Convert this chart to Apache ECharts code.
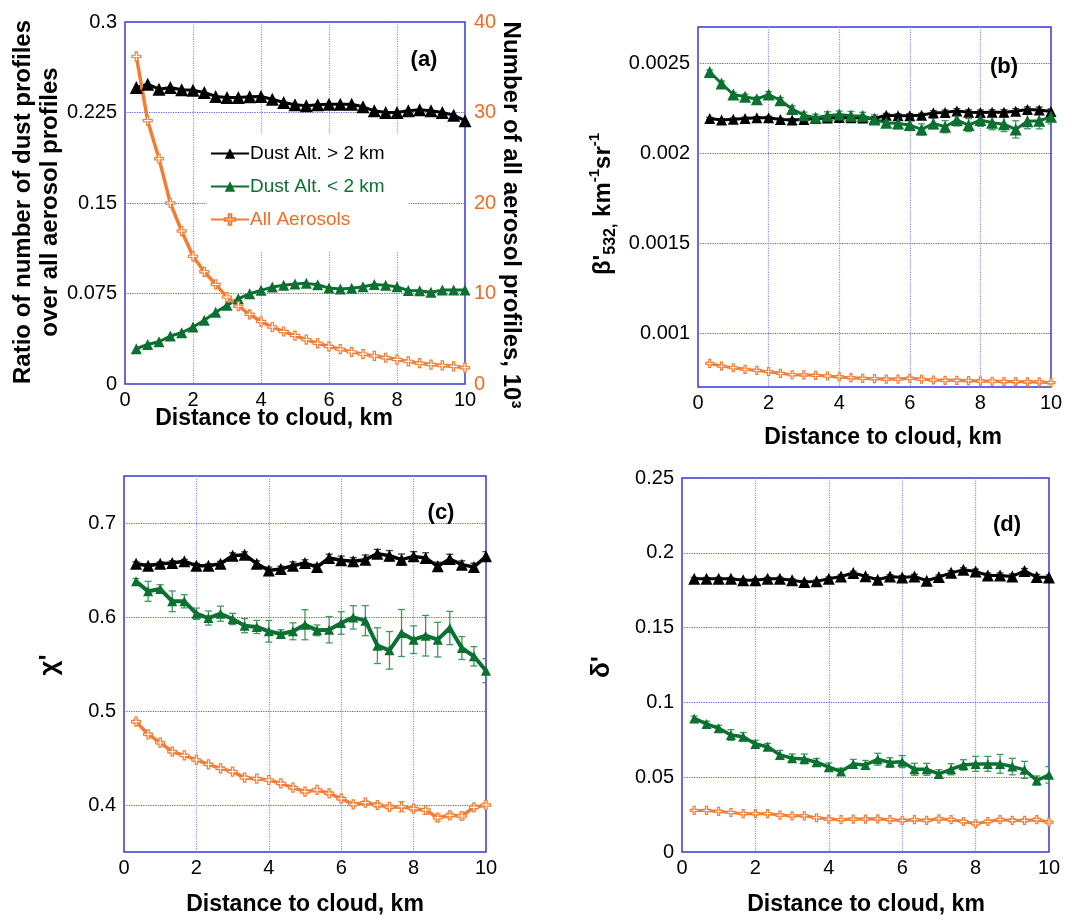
<!DOCTYPE html>
<html>
<head>
<meta charset="utf-8">
<script src="https://cdn.jsdelivr.net/npm/echarts@6/dist/echarts.min.js"></script>
<style>
  html, body { margin: 0; padding: 0; background: #ffffff; }
  #chart { width: 1077px; height: 922px; }
</style>
</head>
<body>
<div id="chart"></div>
<script>
// Distance to cloud edge (km), shared by all four panels
const distanceKm = [0.333, 0.667, 1, 1.333, 1.667, 2, 2.333, 2.667, 3, 3.333, 3.667, 4, 4.333, 4.667, 5,
  5.333, 5.667, 6, 6.333, 6.667, 7, 7.333, 7.667, 8, 8.333, 8.667, 9, 9.333, 9.667, 10];

// (a) fraction of dust profiles and number of all aerosol profiles (thousands)
const ratioHighDust = [0.2457, 0.2485, 0.2443, 0.2457, 0.2438, 0.2435, 0.2416, 0.2383, 0.2374, 0.2374, 0.2380, 0.2383, 0.2360, 0.2333, 0.2314,
  0.2305, 0.2314, 0.2319, 0.2319, 0.2319, 0.2297, 0.2264, 0.2250, 0.2250, 0.2264, 0.2272, 0.2264, 0.2250, 0.2228, 0.2182];
const ratioLowDust = [0.0292, 0.0328, 0.0350, 0.0398, 0.0425, 0.0472, 0.0528, 0.0595, 0.0652, 0.0706, 0.0748, 0.0776, 0.0803, 0.0818, 0.0828,
  0.0834, 0.0822, 0.0795, 0.0788, 0.0793, 0.0806, 0.0824, 0.0818, 0.0805, 0.0775, 0.0772, 0.0760, 0.0778, 0.0778, 0.0778];
const allAerosolCount = [36.2, 29.1, 24.9, 20.0, 16.9, 14.1, 12.4, 11.0, 9.6, 8.6, 7.7, 6.9, 6.3, 5.8, 5.35,
  4.9, 4.5, 4.15, 3.85, 3.55, 3.3, 3.1, 2.9, 2.7, 2.5, 2.3, 2.15, 2.05, 1.95, 1.8];

// (b) attenuated backscatter at 532 nm (km-1 sr-1) and standard errors
const backscatterHigh = [0.002192, 0.002183, 0.002188, 0.002192, 0.002196, 0.002196, 0.002186, 0.002183, 0.002186, 0.002192, 0.002195, 0.002197, 0.002196, 0.002194, 0.002192,
  0.002210, 0.002207, 0.002207, 0.002210, 0.002223, 0.002225, 0.002234, 0.002227, 0.002225, 0.002227, 0.002227, 0.002232, 0.002242, 0.002239, 0.002230];
const backscatterLow = [0.002450, 0.002386, 0.002325, 0.002312, 0.002299, 0.002325, 0.002293, 0.002244, 0.002210, 0.002196, 0.002207, 0.002214, 0.002207, 0.002205, 0.002186,
  0.002168, 0.002164, 0.002155, 0.002131, 0.002164, 0.002146, 0.002183, 0.002155, 0.002183, 0.002168, 0.002160, 0.002131, 0.002177, 0.002179, 0.002201];
const backscatterAll = [0.000831, 0.000816, 0.000807, 0.000798, 0.000792, 0.000785, 0.000776, 0.000768, 0.000767, 0.000765, 0.000761, 0.000756, 0.000752, 0.000748, 0.000746,
  0.000744, 0.000744, 0.000748, 0.000743, 0.000739, 0.000737, 0.000737, 0.000735, 0.000733, 0.000732, 0.000730, 0.000730, 0.000728, 0.000728, 0.000724];
const backscatterHighErr = [0.000006, 0.000007, 0.000006, 0.000007, 0.000006, 0.000008, 0.000007, 0.000008, 0.000009, 0.000008, 0.000009, 0.000010, 0.000009, 0.000010, 0.000011,
  0.000010, 0.000011, 0.000012, 0.000011, 0.000012, 0.000013, 0.000012, 0.000013, 0.000014, 0.000013, 0.000014, 0.000015, 0.000014, 0.000016, 0.000015];
const backscatterLowErr = [0.000012, 0.000014, 0.000012, 0.000015, 0.000013, 0.000016, 0.000015, 0.000018, 0.000017, 0.000020, 0.000022, 0.000019, 0.000024, 0.000021, 0.000026,
  0.000025, 0.000028, 0.000030, 0.000031, 0.000029, 0.000034, 0.000033, 0.000036, 0.000035, 0.000039, 0.000041, 0.000048, 0.000042, 0.000045, 0.000040];
const backscatterAllErr = [0.000004, 0.000004, 0.000004, 0.000004, 0.000005, 0.000004, 0.000005, 0.000005, 0.000004, 0.000005, 0.000005, 0.000005, 0.000006, 0.000005, 0.000006,
  0.000006, 0.000005, 0.000006, 0.000006, 0.000007, 0.000006, 0.000006, 0.000007, 0.000006, 0.000007, 0.000007, 0.000007, 0.000008, 0.000007, 0.000008];

// (c) attenuated color ratio and standard errors
const colorRatioHigh = [0.6567, 0.6546, 0.6567, 0.6574, 0.6592, 0.6546, 0.6546, 0.6567, 0.6652, 0.6663, 0.6567, 0.6496, 0.6511, 0.6546, 0.6574,
  0.6532, 0.6628, 0.6603, 0.6592, 0.6610, 0.6674, 0.6652, 0.6610, 0.6645, 0.6628, 0.6539, 0.6617, 0.6557, 0.6532, 0.6645];
const colorRatioLow = [0.6379, 0.6273, 0.6298, 0.6167, 0.6167, 0.6035, 0.5989, 0.6035, 0.5979, 0.5908, 0.5894, 0.5848, 0.5819, 0.5848, 0.5918,
  0.5858, 0.5865, 0.5936, 0.5996, 0.5961, 0.5695, 0.5645, 0.5830, 0.5759, 0.5801, 0.5759, 0.5883, 0.5670, 0.5582, 0.5429];
const colorRatioAll = [0.4887, 0.4752, 0.4663, 0.4567, 0.4528, 0.4479, 0.4433, 0.4390, 0.4355, 0.4291, 0.4280, 0.4266, 0.4230, 0.4184, 0.4142,
  0.4160, 0.4124, 0.4067, 0.4007, 0.4025, 0.4000, 0.3979, 0.3982, 0.3961, 0.3947, 0.3865, 0.3890, 0.3883, 0.3975, 0.4000];
const colorRatioHighErr = [0.002, 0.002, 0.002, 0.0025, 0.002, 0.0025, 0.002, 0.0025, 0.003, 0.003, 0.003, 0.0035, 0.003, 0.004, 0.0035,
  0.003, 0.004, 0.0045, 0.004, 0.005, 0.0045, 0.0055, 0.006, 0.005, 0.0055, 0.0045, 0.005, 0.004, 0.004, 0.005];
const colorRatioLowErr = [0.003, 0.0106, 0.0045, 0.011, 0.007, 0.006, 0.0075, 0.008, 0.006, 0.0075, 0.007, 0.0115, 0.0045, 0.009, 0.016,
  0.0057, 0.014, 0.012, 0.0124, 0.016, 0.019, 0.020, 0.025, 0.0147, 0.0216, 0.0184, 0.0177, 0.0122, 0.0103, 0.0128];
const colorRatioAllErr = [0.002, 0.0015, 0.0015, 0.0015, 0.0015, 0.0015, 0.0015, 0.0015, 0.0015, 0.002, 0.0015, 0.0015, 0.002, 0.002, 0.002,
  0.002, 0.002, 0.002, 0.002, 0.002, 0.0025, 0.0025, 0.0055, 0.003, 0.0045, 0.0035, 0.003, 0.0035, 0.0025, 0.003];

// (d) particulate depolarization ratio and standard errors
const depolHigh = [0.1827, 0.1827, 0.1827, 0.1827, 0.1816, 0.1816, 0.1827, 0.1827, 0.1816, 0.1804, 0.1809, 0.1827, 0.1842, 0.1865, 0.1843,
  0.1820, 0.1842, 0.1835, 0.1842, 0.1813, 0.1838, 0.1866, 0.1886, 0.1875, 0.1849, 0.1849, 0.1842, 0.1879, 0.1838, 0.1835];
const depolLow = [0.0893, 0.0856, 0.0827, 0.0782, 0.0771, 0.0722, 0.0704, 0.0649, 0.0627, 0.0622, 0.0600, 0.0567, 0.0538, 0.0589, 0.0582,
  0.0620, 0.0598, 0.0604, 0.0553, 0.0553, 0.0522, 0.0553, 0.0582, 0.0589, 0.0589, 0.0589, 0.0571, 0.0549, 0.0478, 0.0516];
const depolAll = [0.0278, 0.0278, 0.0271, 0.0264, 0.0256, 0.0256, 0.0256, 0.0247, 0.0242, 0.0242, 0.0229, 0.0220, 0.0216, 0.0220, 0.0220,
  0.0222, 0.0216, 0.0211, 0.0216, 0.0211, 0.0222, 0.0216, 0.0204, 0.0189, 0.0204, 0.0216, 0.0211, 0.0211, 0.0216, 0.0200];
const depolHighErr = [0.0008, 0.0008, 0.0009, 0.0008, 0.0009, 0.0010, 0.0009, 0.0010, 0.0010, 0.0011, 0.0010, 0.0011, 0.0012, 0.0012, 0.0011,
  0.0013, 0.0012, 0.0013, 0.0014, 0.0013, 0.0014, 0.0015, 0.0014, 0.0016, 0.0015, 0.0016, 0.0017, 0.0016, 0.0018, 0.0017];
const depolLowErr = [0.0015, 0.0018, 0.0020, 0.0036, 0.0028, 0.0025, 0.0022, 0.0030, 0.0028, 0.0033, 0.0025, 0.0028, 0.0022, 0.0030, 0.0030,
  0.0040, 0.0032, 0.0040, 0.0040, 0.0040, 0.0028, 0.0037, 0.0035, 0.0050, 0.0050, 0.0063, 0.0055, 0.0057, 0.0030, 0.0055];
const depolAllErr = [0.0006, 0.0006, 0.0006, 0.0007, 0.0006, 0.0007, 0.0007, 0.0007, 0.0008, 0.0007, 0.0008, 0.0008, 0.0008, 0.0009, 0.0008,
  0.0009, 0.0009, 0.0010, 0.0009, 0.0010, 0.0010, 0.0011, 0.0010, 0.0012, 0.0011, 0.0011, 0.0012, 0.0011, 0.0012, 0.0012];

const seriesNames = ['Dust Alt. > 2 km', 'Dust Alt. < 2 km', 'All Aerosols'];

const FONT = "'Liberation Sans', Arial, Helvetica, sans-serif";
const COL = {
  black: '#000000', green: '#0b7030', orange: '#f47d36',
  frame: '#3838d4', gridH: '#5c5ce6', gridV: '#8e8ef0',
  errBlack: '#3a3a3a', errGreen: '#3f9a5e', errOrange: '#f7a072'
};
const T = 'transparent';
// hollow plus marker used for the aerosol curves
const CROSS = 'path://M3,0H5V3H8V5H5V8H3V5H0V3H3Z';

const grids = [
  { left: 125, top: 22, width: 340, height: 362 },
  { left: 698, top: 27, width: 353, height: 360 },
  { left: 124, top: 476, width: 362, height: 376 },
  { left: 682, top: 478, width: 367, height: 374 }
].map(g => Object.assign({ show: true, borderColor: COL.frame, borderWidth: 1.5, backgroundColor: T }, g));

const labelStyle = { color: '#000', fontSize: 20, fontFamily: FONT };

const xAxes = [0, 1, 2, 3].map(gi => ({
  type: 'value', gridIndex: gi, min: 0, max: 10, interval: 2,
  axisLine: { show: false }, axisTick: { show: false },
  axisLabel: Object.assign({ margin: 6 }, labelStyle),
  splitLine: { show: true, lineStyle: { type: 'dotted', width: 1.2, color: [T, COL.gridV, COL.gridV, COL.gridV, COL.gridV, T] } }
}));

function yAxis(gi, min, max, interval, splitColors, formatter, extra) {
  return Object.assign({
    type: 'value', gridIndex: gi, min, max, interval,
    axisLine: { show: false }, axisTick: { show: false },
    axisLabel: Object.assign({ margin: 8, formatter }, labelStyle),
    splitLine: { show: true, lineStyle: { type: 'dotted', width: 1.2, color: splitColors } }
  }, extra || {});
}

const yAxes = [
  yAxis(0, 0, 0.3, 0.075, [T, COL.gridH, COL.gridH, COL.gridH, T]),
  yAxis(0, 0, 40, 10, [T], undefined, {
    position: 'right', splitLine: { show: false },
    axisLabel: Object.assign({ margin: 9 }, labelStyle, { color: '#f26b22' })
  }),
  // ticks every 1e-4 from 7e-4; only the multiples of 5e-4 get a label and a grid line
  yAxis(1, 0.0007, 0.0027, 0.0001, [T, T, T, COL.gridH, T],
    v => (Math.round(v * 1e4) % 5 === 0) ? String(Math.round(v * 1e4) / 1e4) : ''),
  // ticks every 0.05 from 0.35; labels and grid lines on the tenths
  yAxis(2, 0.35, 0.75, 0.05, [T, COL.gridH],
    v => (Math.round(v * 100) % 10 === 0) ? String(Math.round(v * 10) / 10) : ''),
  yAxis(3, 0, 0.25, 0.05, [T, COL.gridH, COL.gridH, COL.gridH, COL.gridH, T])
];

function pairs(ys) { return distanceKm.map((x, i) => [x, ys[i]]); }

function curve(kind, xi, yi, ys, opts) {
  const o = opts || {};
  const base = { type: 'line', name: seriesNames[kind], xAxisIndex: xi, yAxisIndex: yi, data: pairs(ys), z: 3, animation: false, clip: true };
  if (kind === 2) {
    return Object.assign(base, {
      symbol: CROSS, symbolSize: o.size || 8,
      lineStyle: { color: COL.orange, width: o.width || 3 },
      itemStyle: { color: '#ffffff', borderColor: COL.orange, borderWidth: 1.2 }
    });
  }
  const c = kind === 0 ? COL.black : COL.green;
  return Object.assign(base, {
    symbol: 'triangle', symbolSize: o.size || 11,
    lineStyle: { color: c, width: o.width || 3 },
    itemStyle: { color: c }
  });
}

function errorBars(xi, yi, ys, errs, color) {
  return {
    type: 'custom', xAxisIndex: xi, yAxisIndex: yi, z: 2, silent: true, animation: false, clip: true,
    data: distanceKm.map((x, i) => [x, ys[i], errs[i]]),
    encode: { x: 0, y: 1 },
    renderItem: (params, api) => {
      const x = api.value(0), y = api.value(1), e = api.value(2);
      const hi = api.coord([x, y + e]);
      const lo = api.coord([x, y - e]);
      const cap = 3.5;
      const st = { stroke: color, lineWidth: 1.3 };
      return {
        type: 'group', children: [
          { type: 'line', shape: { x1: hi[0], y1: hi[1], x2: lo[0], y2: lo[1] }, style: st },
          { type: 'line', shape: { x1: hi[0] - cap, y1: hi[1], x2: hi[0] + cap, y2: hi[1] }, style: st },
          { type: 'line', shape: { x1: lo[0] - cap, y1: lo[1], x2: lo[0] + cap, y2: lo[1] }, style: st }
        ]
      };
    }
  };
}

const series = [
  // (a)
  curve(0, 0, 0, ratioHighDust, { size: 13 }),
  curve(1, 0, 0, ratioLowDust, { size: 11 }),
  curve(2, 0, 1, allAerosolCount, { width: 3.5, size: 9 }),
  // (b)
  errorBars(1, 2, backscatterHigh, backscatterHighErr, COL.errBlack),
  errorBars(1, 2, backscatterLow, backscatterLowErr, COL.errGreen),
  errorBars(1, 2, backscatterAll, backscatterAllErr, COL.errOrange),
  curve(0, 1, 2, backscatterHigh, { size: 11 }),
  curve(1, 1, 2, backscatterLow, { size: 12 }),
  curve(2, 1, 2, backscatterAll, { width: 3, size: 8 }),
  // (c)
  errorBars(2, 3, colorRatioHigh, colorRatioHighErr, COL.errBlack),
  errorBars(2, 3, colorRatioLow, colorRatioLowErr, COL.errGreen),
  errorBars(2, 3, colorRatioAll, colorRatioAllErr, COL.errOrange),
  curve(0, 2, 3, colorRatioHigh, { size: 12, width: 3.5 }),
  curve(1, 2, 3, colorRatioLow, { size: 10, width: 4 }),
  curve(2, 2, 3, colorRatioAll, { width: 3.5, size: 9 }),
  // (d)
  errorBars(3, 4, depolHigh, depolHighErr, COL.errBlack),
  errorBars(3, 4, depolLow, depolLowErr, COL.errGreen),
  errorBars(3, 4, depolAll, depolAllErr, COL.errOrange),
  curve(0, 3, 4, depolHigh, { size: 12 }),
  curve(1, 3, 4, depolLow, { size: 10, width: 3.5 }),
  curve(2, 3, 4, depolAll, { width: 3, size: 8 })
];

function label(text, x, y, size, rotation, extra) {
  return {
    type: 'text', x, y, rotation: rotation || 0, z: 10, silent: true,
    style: Object.assign({
      text, fill: '#000', fontFamily: FONT, fontSize: size, fontWeight: 'bold',
      align: 'center', verticalAlign: 'middle', textAlign: 'center', textVerticalAlign: 'middle'
    }, extra || {})
  };
}

const xTitle = 'Distance to cloud, km';
const graphics = [
  label(xTitle, 274, 419, 23),
  label(xTitle, 883, 438, 23),
  label(xTitle, 305, 905, 23),
  label(xTitle, 866, 905, 23),
  label('Ratio of number of dust profiles\nover all aerosol profiles', 37, 202, 24, Math.PI / 2, { lineHeight: 27 }),
  label('Number of all aerosol profiles, 10³', 511, 215, 24, -Math.PI / 2),
  label("{b|β'}{sub|532,}{b| km}{sup|-1}{b|sr}{sup|-1}", 603, 204, 24, Math.PI / 2, {
    rich: {
      b: { fontFamily: FONT, fontSize: 24, fontWeight: 'bold', lineHeight: 32, fill: '#000' },
      sub: { fontFamily: FONT, fontSize: 16, fontWeight: 'bold', lineHeight: 17, verticalAlign: 'bottom', fill: '#000' },
      sup: { fontFamily: FONT, fontSize: 15, fontWeight: 'bold', lineHeight: 16, verticalAlign: 'top', fill: '#000' }
    }
  }),
  label("χ'", 50, 665, 26, Math.PI / 2),
  label("δ'", 602, 667, 26, Math.PI / 2),
  label('(a)', 424, 60, 22),
  label('(b)', 1004, 67, 22),
  label('(c)', 441, 513, 22),
  label('(d)', 1007, 525, 22)
];

const chart = echarts.init(document.getElementById('chart'), null, { renderer: 'canvas' });
chart.setOption({
  animation: false,
  backgroundColor: '#ffffff',
  grid: grids,
  xAxis: xAxes,
  yAxis: yAxes,
  legend: {
    orient: 'vertical', left: 207, top: 135, itemWidth: 38, itemHeight: 13, itemGap: 14,
    padding: [9, 24, 22, 3], backgroundColor: '#ffffff', selectedMode: false,
    textStyle: { fontSize: 19, fontFamily: FONT, padding: [0, 0, 0, -4] },
    data: [
      { name: seriesNames[0], textStyle: { color: COL.black } },
      { name: seriesNames[1], textStyle: { color: COL.green } },
      { name: seriesNames[2], textStyle: { color: '#f26b22' } }
    ]
  },
  graphic: graphics,
  series
});
</script>
</body>
</html>
